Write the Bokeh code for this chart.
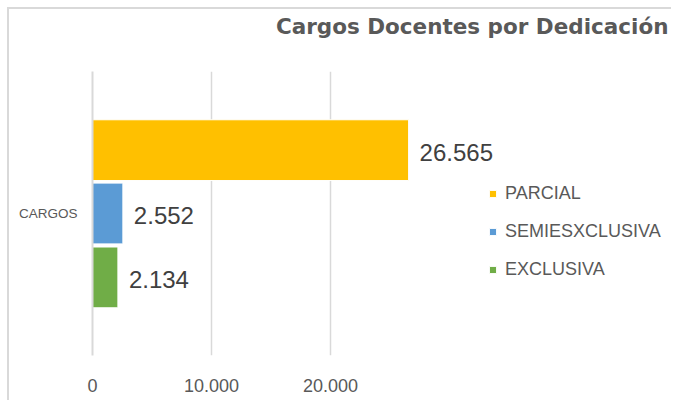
from bokeh.plotting import figure
from bokeh.models import ColumnDataSource, FactorRange, Range1d, FixedTicker, Legend, LegendItem, Title
from bokeh.transform import dodge
from bokeh.core.properties import value
from bokeh.embed import file_html
from bokeh.resources import INLINE

# ---- data ----
group = ["CARGOS"]
series = ["PARCIAL", "SEMIESXCLUSIVA", "EXCLUSIVA"]
values = [26565, 2552, 2134]
value_labels = ["26.565", "2.552", "2.134"]
colors = ["#FFC000", "#5B9BD5", "#70AD47"]
x_ticks = [0, 10000, 20000]
x_tick_labels = {0: "0", 10000: "10.000", 20000: "20.000"}
title_text = "Cargos Docentes por Dedicación"

offsets = [0.223, 0.0, -0.225]
bar_h = 0.214

p = figure(width=664, height=393, title=None,
           y_range=FactorRange(factors=group),
           x_range=Range1d(0, 48824),
           output_backend="svg", toolbar_location=None,
           min_border_left=83, min_border_right=0,
           min_border_top=62, min_border_bottom=47,
           outline_line_color=None, background_fill_color="white",
           border_fill_color="white")
p.margin = (7, 0, 0, 7)
p.styles = {"border-left": "2px solid #d9d9d9", "border-top": "2px solid #d9d9d9",
            "border-right": "0px none white", "border-bottom": "0px none white"}

# spacer between title and plot area, then the title itself
p.add_layout(Title(text=" ", text_font_size="1px", standoff=30), "above")
p.add_layout(Title(text=title_text, align="right", standoff=0, offset=5,
                   text_font="DejaVu Sans", text_font_style="bold",
                   text_font_size="21.5px", text_color="#595959"), "above")

items = []
for name, v, lab, col, off in zip(series, values, value_labels, colors, offsets):
    src = ColumnDataSource(dict(y=group, x=[v], label=[lab]))
    r = p.hbar(y=dodge("y", off, range=p.y_range), right="x", left=0, height=bar_h,
               source=src, fill_color=col, line_color="white", line_width=1)
    p.text(x="x", y=dodge("y", off, range=p.y_range), text="label", source=src,
           x_offset=11, y_offset=2, text_baseline="middle", text_align="left",
           text_font=value("Liberation Sans"), text_font_size="24px", text_color="#404040")
    items.append(LegendItem(label=name, renderers=[r]))

legend = Legend(items=items, location=(396, 75), orientation="vertical",
                label_text_font="Liberation Sans", label_text_font_size="18px",
                label_text_color="#595959", glyph_width=9, glyph_height=9,
                label_height=20, spacing=17, label_standoff=8, padding=0, margin=0,
                border_line_color=None, background_fill_alpha=0)
p.add_layout(legend)

# x axis
p.xaxis.ticker = FixedTicker(ticks=x_ticks)
p.xaxis.major_label_overrides = x_tick_labels
p.xaxis.axis_line_color = None
p.xaxis.major_tick_line_color = None
p.xaxis.minor_tick_line_color = None
p.xaxis.major_tick_out = 0
p.xaxis.major_label_standoff = 23
p.xaxis.major_label_text_font = "Liberation Sans"
p.xaxis.major_label_text_font_size = "18px"
p.xaxis.major_label_text_color = "#595959"

# y axis
p.yaxis.axis_line_color = "#d9d9d9"
p.yaxis.axis_line_width = 2
p.yaxis.major_tick_line_color = None
p.yaxis.major_tick_out = 0
p.yaxis.major_label_standoff = 15
p.yaxis.major_label_text_font = "Liberation Sans"
p.yaxis.major_label_text_font_size = "13.5px"
p.yaxis.major_label_text_color = "#595959"

p.xgrid.ticker = FixedTicker(ticks=[10000, 20000])
p.xgrid.grid_line_color = "#d9d9d9"
p.xgrid.grid_line_width = 1.5
p.ygrid.grid_line_color = None

open("out.html", "w").write(file_html(p, INLINE))
